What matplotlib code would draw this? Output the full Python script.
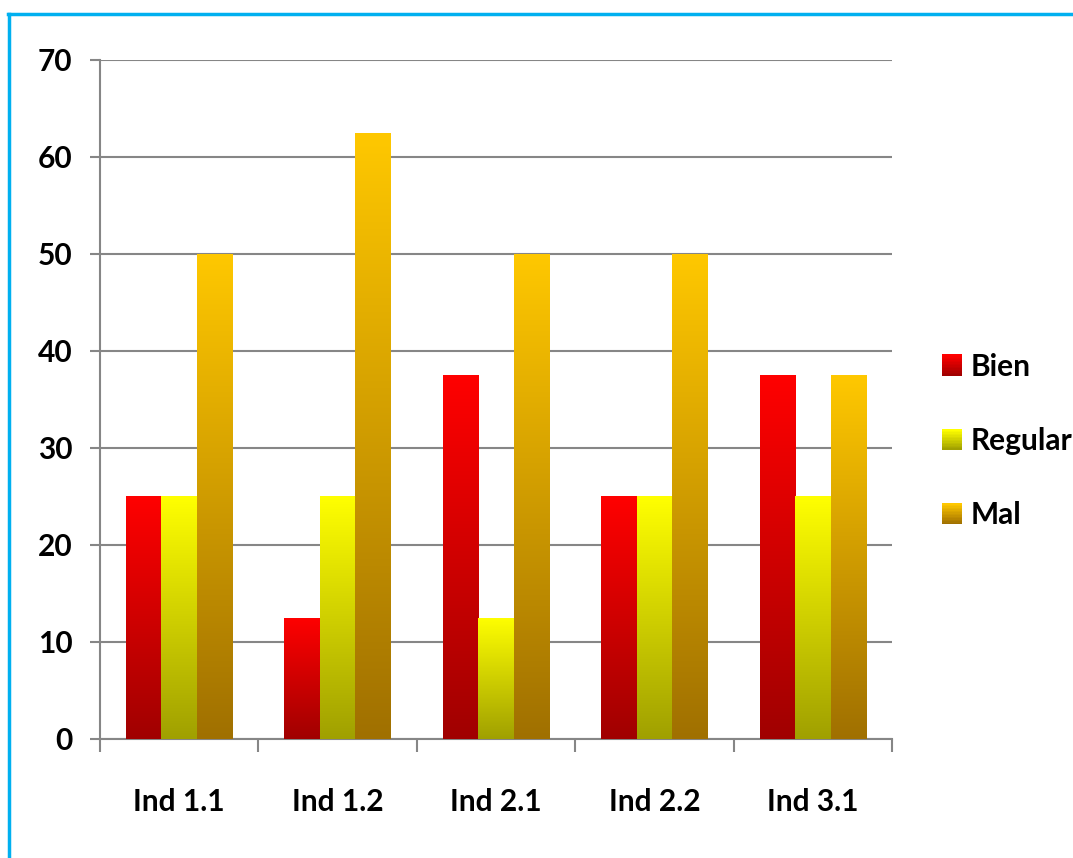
import numpy as np
import matplotlib
matplotlib.use('Agg')
import matplotlib.pyplot as plt
from matplotlib.patches import Rectangle
from matplotlib.legend_handler import HandlerBase
from matplotlib.lines import Line2D
from matplotlib.colors import LinearSegmentedColormap

categories = ['Ind 1.1', 'Ind 1.2', 'Ind 2.1', 'Ind 2.2', 'Ind 3.1']
series = ['Bien', 'Regular', 'Mal']
bien = [25, 12.5, 37.5, 25, 37.5]
regular = [25, 25, 12.5, 25, 25]
mal = [50, 62.5, 50, 50, 37.5]
values = [bien, regular, mal]

# top colour, bottom colour of each gradient
grads = [('#ff0000', '#a00000'), ('#ffff00', '#a0a000'), ('#ffc800', '#a07000')]

plt.rcParams['font.family'] = ['Lato', 'DejaVu Sans']
fs = 21.5

fig = plt.figure(figsize=(10.73, 8.58), dpi=100)
ax = fig.add_axes([0.0932, 0.1387, 0.7381, 0.7914])

x = np.arange(len(categories))
w = 0.224
grid_c = '#868686'

for i, (vals, (ctop, cbot)) in enumerate(zip(values, grads)):
    cmap = LinearSegmentedColormap.from_list('g%d' % i, [cbot, ctop])
    bars = ax.bar(x + (i - 1) * w, vals, w, color='none', zorder=3)
    for b in bars:
        bx, by = b.get_x(), b.get_y()
        bw, bh = b.get_width(), b.get_height()
        grad = np.linspace(0, 1, 256).reshape(-1, 1)
        im = ax.imshow(grad, cmap=cmap, origin='lower', aspect='auto',
                       extent=[bx, bx + bw, by, by + bh], zorder=3)
        im.set_clip_path(b)

ax.set_xlim(-0.5, len(categories) - 0.5)
ax.set_ylim(0, 70)
ax.set_yticks(range(0, 71, 10))
ax.yaxis.grid(True, color=grid_c, lw=1.5)
ax.set_axisbelow(True)
ax.set_xticks(x)
ax.set_xticklabels(categories, fontsize=fs, fontweight='bold')
ax.set_xticks(np.arange(-0.5, len(categories)), minor=True)
ax.tick_params(axis='x', which='major', length=0, pad=35)
ax.tick_params(axis='x', which='minor', length=9, width=1.5, color=grid_c)
ax.tick_params(axis='y', length=7, width=1.5, color=grid_c, pad=13, labelsize=fs)
for t in ax.get_yticklabels():
    t.set_fontweight('bold')
for s in ['top', 'right']:
    ax.spines[s].set_visible(False)
for s in ['left', 'bottom']:
    ax.spines[s].set_color(grid_c)
    ax.spines[s].set_linewidth(1.5)


class GradHandler(HandlerBase):
    def __init__(self, ctop, cbot):
        super().__init__()
        self.ctop, self.cbot = ctop, cbot

    def create_artists(self, legend, orig_handle, xdescent, ydescent, width,
                       height, fontsize, trans):
        cmap = LinearSegmentedColormap.from_list('lg', [self.cbot, self.ctop])
        n = 14
        side = 15
        x0 = -xdescent + width - side
        y0 = -ydescent + (height - side) / 2
        arts = []
        for k in range(n):
            r = Rectangle((x0, y0 + side * k / n), side, side / n + 0.3,
                          facecolor=cmap(k / (n - 1)), edgecolor='none',
                          transform=trans)
            arts.append(r)
        return arts


handles = [Line2D([], []) for _ in series]
hmap = {h: GradHandler(*g) for h, g in zip(handles, grads)}
leg = fig.legend(handles, series, handler_map=hmap, loc='center left',
                 bbox_to_anchor=(0.876, 0.486), frameon=False, borderpad=0,
                 borderaxespad=0, prop={'size': fs, 'weight': 'bold'},
                 labelspacing=1.55, handlelength=0.75, handletextpad=0.28)

# blue frame at top and left
fig.add_artist(Line2D([0.0075, 1.0], [0.9837, 0.9837], color='#00b0f0', lw=2.5,
                      transform=fig.transFigure))
fig.add_artist(Line2D([0.0080, 0.0080], [0.0, 0.9837], color='#00b0f0', lw=2.5,
                      transform=fig.transFigure))

fig.savefig('out.png', dpi=100)
